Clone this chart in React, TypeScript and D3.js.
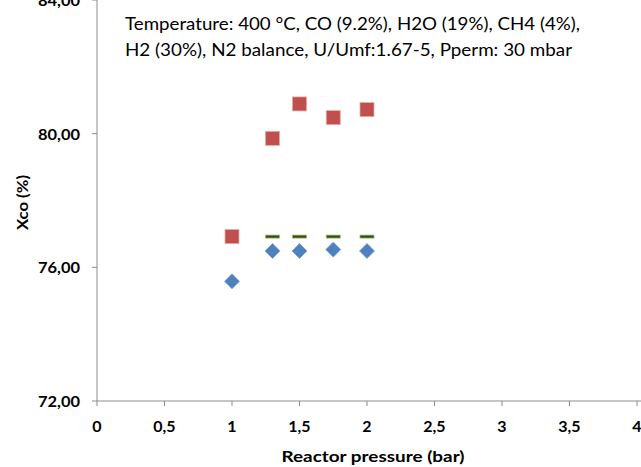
import React from "react";
import * as d3 from "d3";

const pressureRed = [1, 1.3, 1.5, 1.75, 2];
const xcoRed = [76.92, 79.86, 80.89, 80.48, 80.72];
const pressureBlue = [1, 1.3, 1.5, 1.75, 2];
const xcoBlue = [75.58, 76.49, 76.49, 76.53, 76.49];
const pressureGreen = [1.3, 1.5, 1.75, 2];
const xcoGreen = [76.92, 76.92, 76.92, 76.92];
const xTicks = [0, 0.5, 1, 1.5, 2, 2.5, 3, 3.5, 4];
const yTicks = [72, 76, 80, 84];
const annotation = [
  "Temperature:  400 °C, CO (9.2%), H2O (19%), CH4 (4%),",
  "H2 (30%), N2 balance, U/Umf:1.67-5, Pperm:  30 mbar",
];

const W = 641;
const H = 467;
const left = 97;
const right = 637;
const top = 0;
const bottom = 401;

export default function App() {
  const x = d3.scaleLinear().domain([0, 4]).range([left, right]);
  const y = d3.scaleLinear().domain([72, 84]).range([bottom, top]);
  const fmtX = (v: number) => String(v).replace(".", ",");
  const fmtY = (v: number) => v.toFixed(2).replace(".", ",");
  const font = "Lato, 'Open Sans', sans-serif";
  const ds = 7.5;
  return (
    <svg
      width={W}
      height={H}
      style={{ position: "absolute", left: 0, top: 0, background: "#fff" }}
    >
      {/* axes */}
      <line x1={left} x2={left} y1={top} y2={bottom} stroke="#8c8c8c" strokeWidth={1} />
      <line x1={left} x2={W} y1={bottom} y2={bottom} stroke="#8c8c8c" strokeWidth={1} />
      {yTicks.map((t) => (
        <g key={"y" + t}>
          <line x1={left - 5} x2={left} y1={y(t)} y2={y(t)} stroke="#8c8c8c" />
          <text
            x={80}
            y={y(t) + 6}
            textAnchor="end"
            fontFamily={font}
            fontWeight="bold"
            fontSize={16}
            fill="#000"
            textLength={42}
            lengthAdjust="spacingAndGlyphs"
          >
            {fmtY(t)}
          </text>
        </g>
      ))}
      {xTicks.map((t) => (
        <g key={"x" + t}>
          <line x1={x(t)} x2={x(t)} y1={bottom} y2={bottom + 5} stroke="#8c8c8c" />
          <text
            x={x(t)}
            y={432}
            textAnchor="middle"
            fontFamily={font}
            fontWeight="bold"
            fontSize={16}
            fill="#000"
          >
            {fmtX(t)}
          </text>
        </g>
      ))}
      <text
        x={373}
        y={461.5}
        textAnchor="middle"
        fontFamily={font}
        fontWeight="bold"
        fontSize={16}
        textLength={183}
        lengthAdjust="spacingAndGlyphs"
      >
        Reactor pressure (bar)
      </text>
      <text
        transform={`translate(28,${202.5}) rotate(-90)`}
        textAnchor="middle"
        fontFamily={font}
        fontWeight="bold"
        fontSize={16}
        textLength={55}
        lengthAdjust="spacingAndGlyphs"
      >
        Xco (%)
      </text>
      {annotation.map((line, i) => (
        <text
          key={i}
          x={125}
          y={29.5 + i * 26.2}
          fontFamily={font}
          fontSize={16.5}
          fill="#000"
          textLength={i === 0 ? 455 : 447}
          lengthAdjust="spacingAndGlyphs"
        >
          {line}
        </text>
      ))}
      {/* blue diamonds */}
      {pressureBlue.map((p, i) => {
        const cx = x(p);
        const cy = y(xcoBlue[i]);
        return (
          <path
            key={"b" + i}
            d={`M${cx},${cy - ds} L${cx + ds},${cy} L${cx},${cy + ds} L${cx - ds},${cy} Z`}
            fill="#4f81bd"
            stroke="#7aa0d4"
            strokeWidth={0.75}
          />
        );
      })}
      {/* red squares */}
      {pressureRed.map((p, i) => {
        const cx = x(p);
        const cy = y(xcoRed[i]);
        return (
          <rect
            key={"r" + i}
            x={cx - 7}
            y={cy - 7}
            width={14}
            height={14}
            fill="#c0504d"
            stroke="#e6a9a7"
            strokeWidth={0.75}
          />
        );
      })}
      {/* green dashes */}
      {pressureGreen.map((p, i) => {
        const cx = x(p);
        const cy = y(xcoGreen[i]);
        return (
          <rect
            key={"g" + i}
            x={cx - 7}
            y={cy - 1.5}
            width={14}
            height={3}
            fill="#3b4a1e"
            stroke="#9bbb59"
            strokeWidth={0.75}
          />
        );
      })}
    </svg>
  );
}
